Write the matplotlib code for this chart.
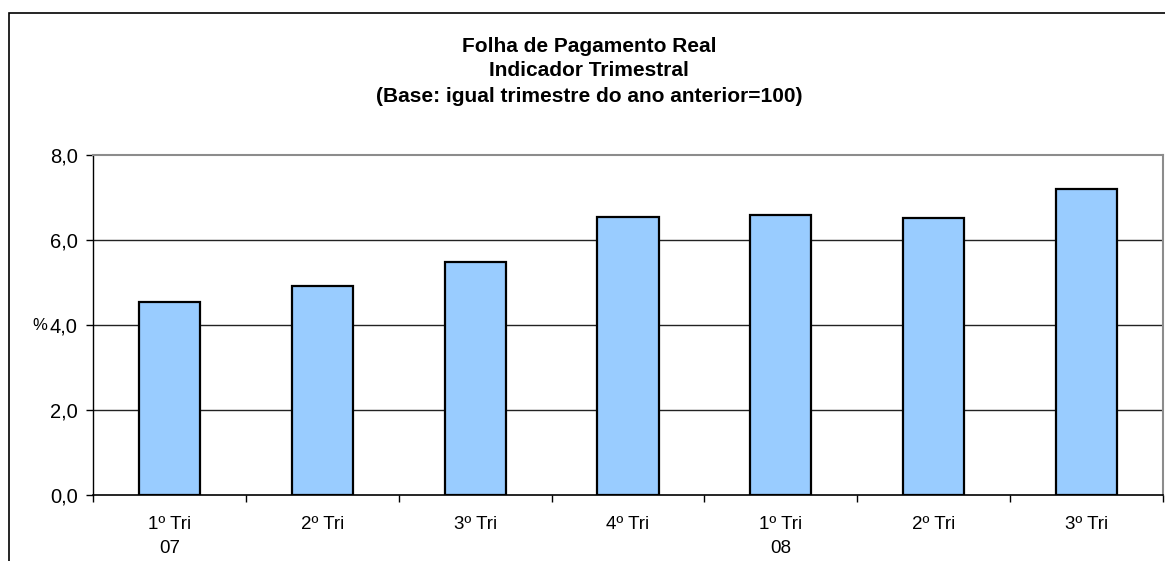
"""Folha de pagamento real - indicador trimestral (bar chart)."""

import matplotlib.pyplot as plt
from matplotlib.patches import Rectangle
from matplotlib.ticker import FuncFormatter

plt.rcParams["font.family"] = ["Liberation Sans", "DejaVu Sans"]

quarters = ["1º Tri\n07", "2º Tri", "3º Tri", "4º Tri", "1º Tri\n08", "2º Tri", "3º Tri"]
values = [4.53, 4.92, 5.48, 6.55, 6.58, 6.51, 7.21]
y_ticks = [0, 2, 4, 6, 8]

W, H = 1165, 561
fig = plt.figure(figsize=(W / 100, H / 100), dpi=100)

# outer chart frame (runs off the right and bottom edges)
fig.patches.append(
    Rectangle((9 / W, -0.1), 1.2, 1.1 - 13 / H, transform=fig.transFigure,
              fill=False, edgecolor="black", linewidth=1.2, clip_on=False)
)

ax = fig.add_axes([93 / W, (H - 495) / H, 1070 / W, 340 / H])
x = range(len(values))
ax.bar(x, values, width=0.4, color="#99ccff", edgecolor="black",
       linewidth=1.6, zorder=3)

ax.set_xlim(-0.5, len(values) - 0.5)
ax.set_ylim(0, 8)
ax.set_yticks(y_ticks)
ax.yaxis.set_major_formatter(FuncFormatter(lambda v, _: f"{v:.1f}".replace(".", ",")))
ax.set_xticks(list(x))
ax.set_xticklabels(quarters, fontsize=13.5, linespacing=1.55, va="top")
ax.set_xticks([i + 0.5 for i in range(-1, len(values))], minor=True)
ax.tick_params(axis="x", which="major", length=0, pad=15)
ax.tick_params(axis="x", which="minor", length=5, width=1, direction="out")
ax.tick_params(axis="y", length=5, width=1, direction="out", pad=6, labelsize=14.5)

for y in y_ticks[1:-1]:
    ax.axhline(y, color="#222222", linewidth=1, zorder=1)

for side in ("top", "right"):
    ax.spines[side].set_color("#8c8c8c")
    ax.spines[side].set_linewidth(1.5)
ax.spines["left"].set_linewidth(1)
ax.spines["bottom"].set_linewidth(1.2)

ax.set_ylabel("%", rotation=0, fontsize=12, va="center")
ax.yaxis.set_label_coords(-0.050, 0.5)

title_lines = ["Folha de Pagamento Real", "Indicador Trimestral",
               "(Base: igual trimestre do ano anterior=100)"]
for i, line in enumerate(title_lines):
    fig.text(589 / W, 1 - (46 + 25 * i) / H, line, ha="center", va="center",
             fontsize=15, fontweight="bold")

plt.savefig("out.png", dpi=100)
